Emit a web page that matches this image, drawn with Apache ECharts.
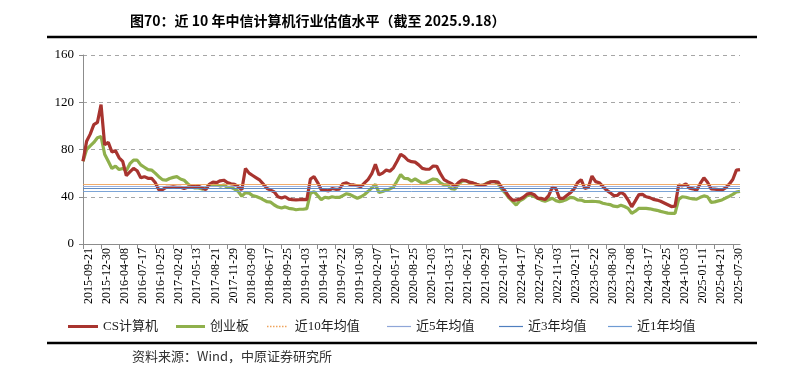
<!DOCTYPE html>
<html>
<head>
<meta charset="utf-8">
<script src="https://cdn.jsdelivr.net/npm/echarts@6/dist/echarts.min.js"></script>
<style>html,body{margin:0;padding:0;background:#fff;}#chart{width:791px;height:387px;}</style>
</head>
<body>
<div id="chart"></div>
<script>
// ---- data ----
const startDate = '2015-09-21';
const stepDays = 20;
const xTickLabelEvery = 5; // one label per 100 days
const csComputer = [
  70, 87, 93, 101, 103, 118, 84, 86, 78, 79,
  73, 70, 58, 61, 64, 62, 56, 57, 55.6, 55.6,
  52, 46, 46, 48, 48, 48.5, 48, 48, 47, 48,
  48.5, 48.5, 49, 47.5, 46, 50.5, 52.5, 52, 53.5, 54,
  52, 51, 50.5, 48.5, 46, 64, 60, 58, 56, 54,
  50.5, 47, 45.6, 44, 40, 39, 40, 38, 37.5, 37.4,
  37.5, 37.8, 37.5, 55, 57, 52, 46, 45.5, 45, 47,
  46.3, 46.5, 51, 51.8, 50.2, 50, 49.3, 48.6, 51.8, 54.8,
  59.5, 67.5, 58.5, 60, 62.6, 61.6, 64.5, 70, 76, 74,
  70.9, 69.7, 69.3, 67, 64, 63.3, 63.4, 66, 65.8, 59.5,
  54.6, 52.8, 51.3, 49, 52, 54.2, 53.7, 52.4, 51.7, 50.5,
  49.5, 49.8, 51.2, 52.7, 52.8, 52.4, 48, 44.6, 40, 37.2,
  37.2, 38, 39.6, 42.2, 43, 41.7, 38.7, 38.6, 37.6, 41,
  48, 47, 38.7, 38.6, 41, 43.4, 46.4, 51.8, 54.5, 47,
  48, 57.5, 52.8, 51.9, 48.8, 45.6, 43.5, 41, 41.1, 43.8,
  41.8, 37.2, 31.5, 36.5, 41.8, 42, 40, 39.3, 37.8, 37.2,
  36.2, 34.7, 33.2, 31.7, 32, 50, 49.2, 51, 47.3, 46.7,
  45.6, 51.3, 56, 52.2, 46.6, 46.4, 46, 45.7, 47.5, 50.6,
  54.6, 62.5, 63
];
const chinext = [
  70, 80, 83, 86, 90, 91, 76, 70, 64, 66,
  63, 64, 62, 68, 71, 71, 67, 65, 63, 62.6,
  60, 57, 54.5, 54, 55.5, 56.4, 57, 55, 54, 51,
  48.5, 47.5, 47.5, 46.5, 47, 50.5, 50.3, 50.5, 49, 50,
  48, 48, 46.5, 44.5, 40.5, 43.5, 43, 41, 40.2, 39,
  37.4, 35.8, 35.4, 33, 31.3, 30.5, 31.4, 30.2, 29.8, 29,
  29.4, 29.4, 30, 43, 44.3, 41, 37.6, 39.6, 39, 40,
  39.4, 39.4, 41, 42.6, 41.8, 40.2, 38.7, 40, 41.9, 44.6,
  47.5, 50.5, 43.6, 44.5, 45.7, 46.6, 48.2, 53.3, 58.8, 55.6,
  55.3, 53.3, 55.2, 53.3, 51.4, 52.1, 53.5, 55, 54.6, 51.8,
  50.1, 50, 46.9, 46.4, 50.6, 53.2, 53.6, 52.1, 51.4, 50.5,
  49.5, 49.8, 51.8, 52.7, 52.8, 51, 46.5, 43.1, 39, 36,
  33, 36.6, 38.2, 40.9, 41.5, 40.2, 38.7, 37.1, 36.2, 37.4,
  38.7, 36.7, 35.8, 36.5, 37.7, 39.4, 39, 37.4, 37.2, 36,
  36, 36.2, 36, 35.7, 34.5, 33.9, 33.4, 32, 31.6, 32.8,
  31.7, 30.2, 26, 27.8, 30.2, 30.2, 30.2, 29.8, 29.1, 28.5,
  27.6, 26.9, 26.1, 26, 26, 37.8, 40, 39.6, 38.7, 38.1,
  38, 39.5, 40.7, 40, 35.3, 35.7, 36.5, 37.3, 38.9, 40.3,
  42, 44, 44.5
];
const avg10y = 51.0;
const avg5y = 48.8;
const avg3y = 46.8;
const avg1y = 44.9;
const yTicks = [0, 40, 80, 120, 160];
const seriesNames = ['CS计算机', '创业板', '近10年均值', '近5年均值', '近3年均值', '近1年均值'];

// ---- categories (dates) ----
function pad(n){return n<10?'0'+n:''+n;}
const categories = [];
(function(){
  const p = startDate.split('-').map(Number);
  const t0 = Date.UTC(p[0], p[1]-1, p[2]);
  for (let i = 0; i < csComputer.length; i++) {
    const d = new Date(t0 + i*stepDays*86400000);
    categories.push(d.getUTCFullYear()+'-'+pad(d.getUTCMonth()+1)+'-'+pad(d.getUTCDate()));
  }
})();

const serif = '"Times New Roman","Liberation Serif","Noto Sans CJK SC",serif';
const cjk = '"Liberation Serif","Noto Sans CJK SC",sans-serif';

const colors = {
  cs: '#A8342F', cy: '#8FB04C',
  a10: '#EFA35C', a5: '#8FA6D8', a3: '#4F7FBF', a1: '#6E9BD3'
};

function avgSeries(name, val, color){
  return {
    name: name, type: 'line', data: [], symbol: 'none', color: color,
    lineStyle: {color: color, width: 1},
    z: 5,
    markLine: {
      silent: true, symbol: 'none', label: {show: false},
      lineStyle: {color: color, width: 1, type: 'solid', opacity: 0.9},
      emphasis: {disabled: true},
      data: [{yAxis: val}]
    }
  };
}

const dottedIcon = 'path://M0,0h2v2h-2zM4,0h2v2h-2zM8,0h2v2h-2zM12,0h2v2h-2zM16,0h2v2h-2zM20,0h2v2h-2zM24,0h2v2h-2z';

function legendAt(name, left, w, h, icon){
  return {
    data: [name], left: left, top: 315, itemWidth: w, itemHeight: h, icon: icon || 'rect',
    textStyle: {fontFamily: cjk, fontSize: 13, color: '#222'},
    selectedMode: false
  };
}

const chart = echarts.init(document.getElementById('chart'), null, {renderer: 'canvas'});
chart.setOption({
  animation: false,
  backgroundColor: '#fff',
  grid: {left: 83, right: 51, top: 55, bottom: 143},
  graphic: [
    {type: 'text', x: 130, y: 21, style: {text: '图70：近 10 年中信计算机行业估值水平（截至 2025.9.18）', font: 'bold 14px "Noto Sans CJK SC", sans-serif', fill: '#000', verticalAlign: 'middle'}},
    {type: 'line', shape: {x1: 47, y1: 37, x2: 757, y2: 37}, style: {stroke: '#000', lineWidth: 2.5}},
    {type: 'line', shape: {x1: 47, y1: 343, x2: 757, y2: 343}, style: {stroke: '#000', lineWidth: 2.5}},
    {type: 'text', x: 132, y: 356, style: {text: '资料来源：Wind，中原证券研究所', font: '13px "Noto Sans CJK SC", sans-serif', fill: '#333', verticalAlign: 'middle'}}
  ],
  legend: [
    legendAt(seriesNames[0], 63, 30, 3),
    legendAt(seriesNames[1], 171, 29, 3),
    legendAt(seriesNames[2], 262, 26, 1.5, dottedIcon),
    legendAt(seriesNames[3], 382, 24, 1.2),
    legendAt(seriesNames[4], 494, 24, 1.2),
    legendAt(seriesNames[5], 603, 24, 1.2)
  ],
  xAxis: {
    type: 'category', data: categories, boundaryGap: false,
    axisLine: {lineStyle: {color: '#8c8c8c', width: 1}},
    axisTick: {show: true, interval: xTickLabelEvery - 1, length: 5, lineStyle: {color: '#8c8c8c'}},
    axisLabel: {interval: xTickLabelEvery - 1, rotate: 90, margin: 4, verticalAlign: 'top',
      fontFamily: serif, fontSize: 12, color: '#000'},
    splitLine: {show: false}
  },
  yAxis: {
    type: 'value', min: yTicks[0], max: yTicks[yTicks.length-1], interval: 40,
    axisLine: {show: true, lineStyle: {color: '#8c8c8c'}},
    axisTick: {show: true, length: 4, lineStyle: {color: '#8c8c8c'}},
    axisLabel: {fontFamily: serif, fontSize: 13, color: '#000', margin: 9},
    splitLine: {show: true, lineStyle: {color: '#a6a6a6', type: [4, 4], width: 1}}
  },
  series: [
    {name: seriesNames[0], type: 'line', data: csComputer, symbol: 'none', color: colors.cs,
      lineStyle: {color: colors.cs, width: 3.2}, z: 3},
    {name: seriesNames[1], type: 'line', data: chinext, symbol: 'none', color: colors.cy,
      lineStyle: {color: colors.cy, width: 3.2}, z: 2},
    avgSeries(seriesNames[2], avg10y, colors.a10),
    avgSeries(seriesNames[3], avg5y, colors.a5),
    avgSeries(seriesNames[4], avg3y, colors.a3),
    avgSeries(seriesNames[5], avg1y, colors.a1)
  ]
});
</script>
</body>
</html>
